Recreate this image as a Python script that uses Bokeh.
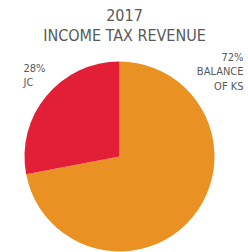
from math import pi
from bokeh.plotting import figure
from bokeh.models import Range1d, ColumnDataSource
from bokeh.core.properties import value
from bokeh.embed import file_html
from bokeh.resources import INLINE

title_lines = ["2017", "INCOME TAX REVENUE"]
categories = ["BALANCE\nOF KS", "JC"]
shares = [72, 28]
colors = ["#E99123", "#E31F37"]

W, H = 248, 252
p = figure(width=W, height=H, output_backend="svg", toolbar_location=None,
           x_range=Range1d(0, W), y_range=Range1d(0, H), min_border=0)
p.axis.visible = False
p.grid.visible = False
p.outline_line_color = None
p.background_fill_color = "white"

total = sum(shares)
# first slice clockwise from 12 o'clock, second counter-clockwise from 12 o'clock
f0 = shares[0] / total * 2 * pi
f1 = shares[1] / total * 2 * pi
starts = [pi / 2 - f0, pi / 2]
ends = [pi / 2, pi / 2 + f1]
src = ColumnDataSource(dict(start=starts, end=ends, color=colors))
p.wedge(x=119, y=96, radius=95, start_angle="start", end_angle="end",
        fill_color="color", line_color=None, source=src)

font = value("DejaVu Sans Condensed")
gray = "#595959"
p.text(x=[124, 124], y=[238, 217], text=title_lines, text_font=font,
       text_font_size="16px", text_align="center", text_baseline="middle",
       text_color=gray)

labels = [f"{s}%\n{c}" for s, c in zip(shares, categories)]
p.text(x=[243], y=[202], text=[labels[0]], text_font=font, text_font_size="11px",
       text_align="right", text_baseline="top", text_line_height=1.15, text_color=gray)
p.text(x=[23], y=[191], text=[labels[1]], text_font=font, text_font_size="11px",
       text_align="left", text_baseline="top", text_line_height=1.15, text_color=gray)

open("out.html", "w").write(file_html(p, INLINE))
